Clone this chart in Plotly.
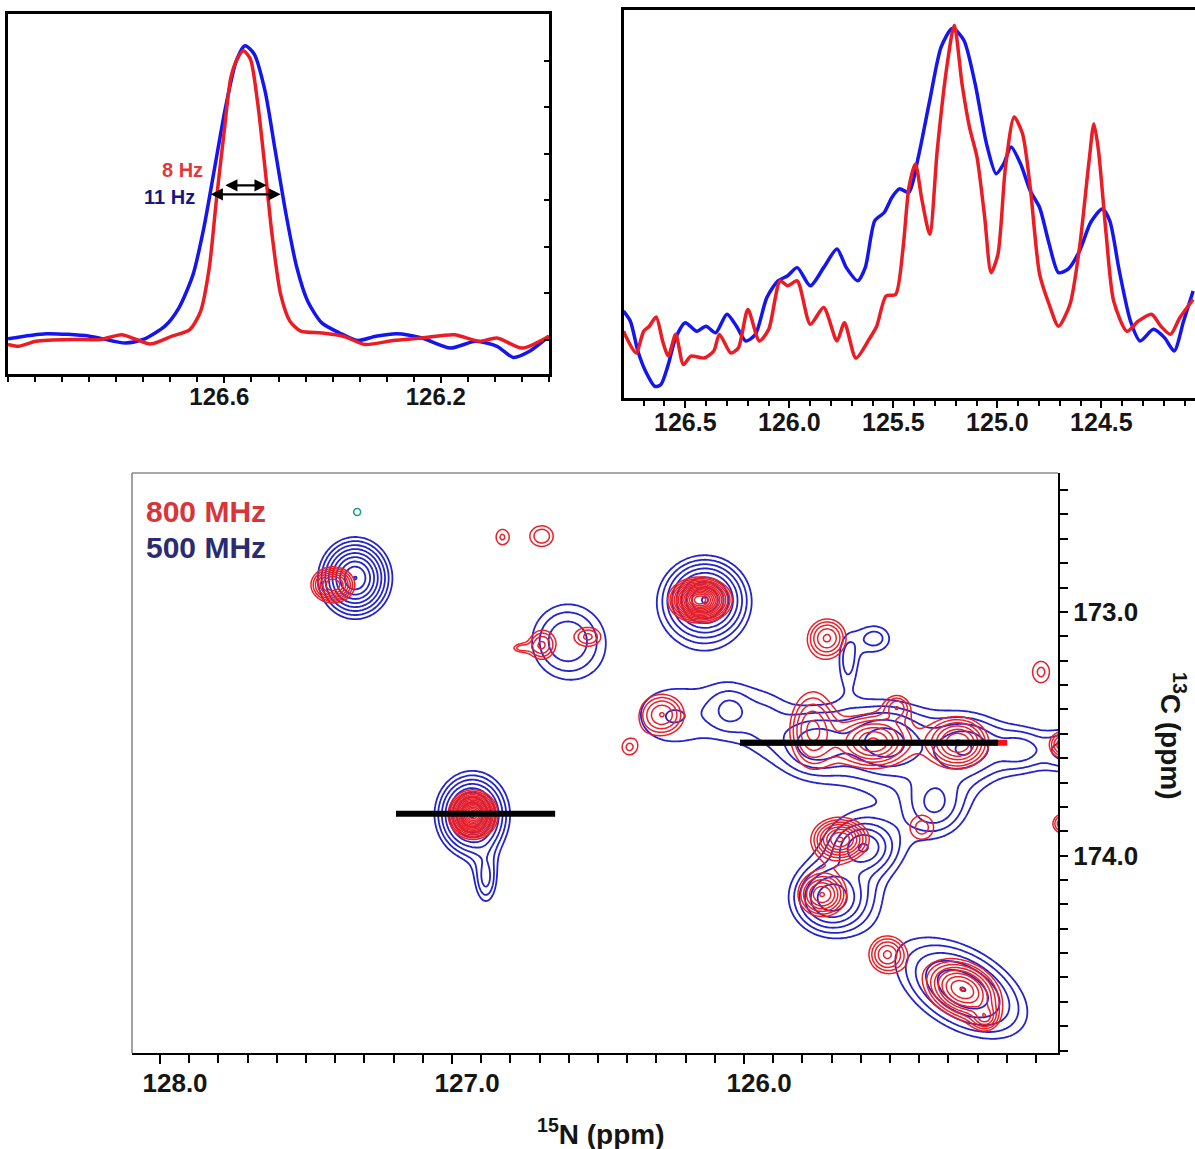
import numpy as np
import plotly.graph_objects as go

FIG_W, FIG_H = 1195, 1149
FONT = "Liberation Sans, Arial, Helvetica, sans-serif"

RED_1D = "#ec1c24"
BLUE_1D = "#1515f0"
RED_2D = "#e8202a"
BLUE_2D = "#2424cc"
TEAL = "#1a9c9c"

# ---------------------------------------------------------------------------
# 1D slice through the isolated peak (15N, ppm vs. normalised intensity)
# ---------------------------------------------------------------------------
left_ppm_500 = [127.0, 126.929, 126.849, 126.783, 126.75, 126.71, 126.684, 126.658,
                126.638, 126.618, 126.598, 126.578, 126.562, 126.545, 126.525, 126.506,
                126.486, 126.466, 126.446, 126.42, 126.387, 126.354, 126.32, 126.281,
                126.235, 126.182, 126.136, 126.096, 126.066, 126.036, 126.0]
left_int_500 = [0.098, 0.112, 0.105, 0.086, 0.096, 0.133, 0.184, 0.276,
                0.406, 0.573, 0.740, 0.870, 0.912, 0.889, 0.787, 0.620,
                0.443, 0.295, 0.202, 0.142, 0.114, 0.093, 0.105, 0.112,
                0.100, 0.072, 0.091, 0.077, 0.046, 0.063, 0.105]

left_ppm_800 = [127.0, 126.981, 126.948, 126.882, 126.829, 126.79, 126.763, 126.737,
                126.697, 126.664, 126.644, 126.628, 126.615, 126.601, 126.588, 126.575,
                126.565, 126.552, 126.539, 126.525, 126.512, 126.496, 126.479, 126.459,
                126.42, 126.38, 126.34, 126.288, 126.235, 126.175, 126.129, 126.096,
                126.05, 126.0]
left_int_800 = [0.082, 0.077, 0.091, 0.096, 0.096, 0.109, 0.096, 0.083,
                0.105, 0.123, 0.174, 0.295, 0.481, 0.666, 0.824, 0.879,
                0.898, 0.875, 0.759, 0.573, 0.388, 0.221, 0.147, 0.119,
                0.114, 0.105, 0.082, 0.093, 0.100, 0.109, 0.091, 0.100,
                0.072, 0.105]

# linewidth markers (ppm limits at half height)
fwhm_500 = [126.628, 126.496]
fwhm_800 = [126.601, 126.522]
fwhm_level_500 = 0.499
fwhm_level_800 = 0.524

# ---------------------------------------------------------------------------
# 1D slice through the crowded region
# ---------------------------------------------------------------------------
right_ppm_500 = [126.797, 126.764, 126.728, 126.691, 126.646, 126.618, 126.582, 126.546,
                 126.5, 126.445, 126.4, 126.354, 126.3, 126.254, 126.209, 126.163,
                 126.108, 126.054, 126.008, 125.962, 125.899, 125.835, 125.771, 125.726,
                 125.671, 125.635, 125.589, 125.544, 125.507, 125.471, 125.425, 125.38,
                 125.325, 125.27, 125.216, 125.161, 125.107, 125.052, 125.006, 124.97,
                 124.934, 124.888, 124.842, 124.797, 124.751, 124.706, 124.66, 124.605,
                 124.551, 124.496, 124.46, 124.414, 124.36, 124.314, 124.25, 124.196,
                 124.15, 124.105, 124.059]
right_int_500 = [0.224, 0.198, 0.121, 0.069, 0.030, 0.034, 0.086, 0.155,
                 0.194, 0.172, 0.185, 0.168, 0.216, 0.185, 0.147, 0.164,
                 0.259, 0.302, 0.315, 0.336, 0.289, 0.336, 0.384, 0.336,
                 0.302, 0.336, 0.457, 0.478, 0.517, 0.539, 0.530, 0.621,
                 0.767, 0.905, 0.953, 0.922, 0.810, 0.655, 0.578, 0.603,
                 0.647, 0.603, 0.534, 0.491, 0.397, 0.323, 0.332, 0.379,
                 0.453, 0.487, 0.457, 0.328, 0.198, 0.147, 0.177, 0.155,
                 0.121, 0.198, 0.276]

right_ppm_800 = [126.797, 126.737, 126.7, 126.673, 126.64, 126.609, 126.582, 126.546,
                 126.509, 126.473, 126.409, 126.363, 126.336, 126.281, 126.245, 126.199,
                 126.144, 126.099, 126.044, 126.008, 125.962, 125.899, 125.835, 125.771,
                 125.735, 125.68, 125.617, 125.58, 125.535, 125.489, 125.453, 125.425,
                 125.394, 125.362, 125.325, 125.289, 125.243, 125.207, 125.17, 125.134,
                 125.098, 125.061, 125.03, 124.997, 124.961, 124.919, 124.879, 124.842,
                 124.797, 124.751, 124.706, 124.651, 124.605, 124.559, 124.536, 124.514,
                 124.477, 124.441, 124.377, 124.323, 124.259, 124.214, 124.168, 124.123,
                 124.059]
right_int_800 = [0.172, 0.116, 0.172, 0.185, 0.209, 0.147, 0.108, 0.164,
                 0.086, 0.108, 0.103, 0.121, 0.164, 0.116, 0.129, 0.228,
                 0.147, 0.177, 0.302, 0.289, 0.302, 0.190, 0.233, 0.147,
                 0.194, 0.103, 0.151, 0.185, 0.263, 0.267, 0.388, 0.543,
                 0.603, 0.509, 0.422, 0.638, 0.853, 0.961, 0.810, 0.698,
                 0.621, 0.466, 0.323, 0.371, 0.595, 0.724, 0.681, 0.543,
                 0.319, 0.241, 0.185, 0.241, 0.388, 0.612, 0.707, 0.638,
                 0.422, 0.250, 0.172, 0.198, 0.216, 0.185, 0.164, 0.207,
                 0.254]

# ---------------------------------------------------------------------------
# 2D 15N-13C spectrum: peak tables (15N ppm, 13C ppm, half widths, height, tilt)
# ---------------------------------------------------------------------------
peaks500_n = [127.332, 126.606, 126.932, 126.884, 126.134, 126.254, 126.051, 125.928,
              125.757, 125.517, 125.243, 125.055, 124.884, 125.551, 125.644, 125.346,
              125.590, 125.700, 125.250]
peaks500_c = [172.861, 173.119, 173.832, 174.098, 172.951, 173.434, 173.402, 173.443,
              173.545, 173.533, 173.557, 173.566, 173.570, 173.107, 173.197, 173.791,
              173.965, 174.175, 174.549]
peaks500_wn = [0.093, 0.171, 0.093, 0.055, 0.113, 0.250, 0.100, 0.140,
               0.154, 0.171, 0.154, 0.120, 0.120, 0.100, 0.050, 0.140,
               0.120, 0.130, 0.250]
peaks500_wc = [0.123, 0.213, 0.129, 0.150, 0.132, 0.250, 0.130, 0.220,
               0.160, 0.170, 0.160, 0.120, 0.120, 0.100, 0.150, 0.170,
               0.120, 0.140, 0.170]
peaks500_h = [8.2, 2.1, 8.2, 1.6, 8.2, 1.15, 1.1, 0.75,
              2.2, 3.0, 2.4, 1.4, 1.8, 1.3, 1.15, 1.9,
              3.3, 4.5, 3.7]
peaks500_tilt = [0, 0, 0, 0, 0, 0, 0, 0, 0, 0, 0, 0, 0, 0, 0, 0, 0, 0, -30]

peaks800_n = [127.408, 126.829, 126.692, 126.692, 126.767, 126.534, 126.928, 126.151,
              125.716, 126.281, 126.394, 125.767, 125.558, 125.476, 125.267, 124.908,
              124.911, 124.983, 125.390, 125.671, 125.733, 125.510, 125.253, 125.175]
peaks800_c = [172.889, 172.693, 172.689, 173.135, 173.148, 173.102, 173.832, 172.951,
              173.107, 173.422, 173.557, 173.484, 173.533, 173.389, 173.537, 173.545,
              173.869, 173.246, 173.885, 173.934, 174.160, 174.406, 174.549, 174.664]
peaks800_wn = [0.069, 0.055, 0.079, 0.065, 0.050, 0.080, 0.041, 0.0565,
               0.082, 0.100, 0.060, 0.095, 0.123, 0.060, 0.105, 0.060,
               0.050, 0.073, 0.090, 0.086, 0.082, 0.078, 0.113, 0.050]
peaks800_wc = [0.068, 0.080, 0.086, 0.090, 0.030, 0.070, 0.049, 0.0486,
               0.100, 0.110, 0.075, 0.190, 0.105, 0.070, 0.105, 0.070,
               0.060, 0.110, 0.110, 0.078, 0.090, 0.094, 0.095, 0.060]
peaks800_h = [4.77, 1.2, 1.5, 1.9, 1.1, 1.6, 28.4, 22.7,
              2.44, 2.44, 1.15, 2.4, 3.8, 1.5, 3.8, 2.4,
              1.9, 1.3, 1.3, 4.77, 3.8, 2.44, 5.96, 2.0]
peaks800_tilt = [0, 0, 0, 0, 0, 0, 0, 0, -30, 0, 0, 0, 0, 0, 0, 0,
                 0, 0, 0, 0, 0, 0, -25, 0]

# weak artefact peak drawn in teal
teal_n = [127.325]
teal_c = [172.590]

# positions of the two 1D slices in the 2D plane
slice_a_n = [127.192, 126.647]
slice_a_c = [173.828, 173.828]
slice_b_n = [126.014, 125.130]
slice_b_c = [173.537, 173.537]
slice_b_red_n = [126.014, 125.099]

# contour level ratios
LEVEL_RATIO_500 = 1.3
LEVEL_RATIO_800 = 1.25

# ---------------------------------------------------------------------------
# panel geometry (pixels on the page)
# ---------------------------------------------------------------------------
def xdom(left, right):
    return [left / FIG_W, right / FIG_W]


def ydom(top, bottom):
    return [1 - bottom / FIG_H, 1 - top / FIG_H]


TL_X, TL_Y = xdom(8, 549), ydom(14, 374)
TR_X, TR_Y = xdom(623.5, 1195), ydom(10, 398)
BT_X, BT_Y = xdom(132, 1058), ydom(473, 1053)

N_RANGE = [128.096, 124.925]
C_RANGE = [174.81, 172.43]
px_per_ppm_n = (BT_X[1] - BT_X[0]) * FIG_W / abs(N_RANGE[0] - N_RANGE[1])
px_per_ppm_c = (BT_Y[1] - BT_Y[0]) * FIG_H / abs(C_RANGE[0] - C_RANGE[1])
ASPECT = px_per_ppm_c / px_per_ppm_n

grid_n = np.arange(124.88, 128.14, 0.006)
grid_c = np.arange(172.40, 174.86, 0.006)
GN, GC = np.meshgrid(grid_n, grid_c)


def spectrum_surface(cn, cc, wn, wc, height, tilt):
    """Sum of squared-Lorentzian peaks, optionally tilted on screen."""
    z = np.full(GN.shape, 1e-6)
    for n0, c0, a, b, h, t in zip(cn, cc, wn, wc, height, tilt):
        dn = GN - n0
        dc = (GC - c0) * ASPECT
        th = np.radians(t)
        u = dn * np.cos(th) + dc * np.sin(th)
        v = -dn * np.sin(th) + dc * np.cos(th)
        q = (u / a) ** 2 + (v / (b * ASPECT)) ** 2
        z += h / (1.0 + q) ** 2
    return np.log(z).astype(np.float32)


z500 = spectrum_surface(peaks500_n, peaks500_c, peaks500_wn, peaks500_wc,
                        peaks500_h, peaks500_tilt)
z800 = spectrum_surface(peaks800_n, peaks800_c, peaks800_wn, peaks800_wc,
                        peaks800_h, peaks800_tilt)

fig = go.Figure()

# --- top-left slice
fig.add_trace(go.Scatter(x=left_ppm_500, y=left_int_500, mode="lines",
                         line=dict(color=BLUE_1D, width=3.5, shape="spline", smoothing=0.7),
                         xaxis="x", yaxis="y", hoverinfo="skip", showlegend=False))
fig.add_trace(go.Scatter(x=left_ppm_800, y=left_int_800, mode="lines",
                         line=dict(color=RED_1D, width=3.5, shape="spline", smoothing=0.7),
                         xaxis="x", yaxis="y", hoverinfo="skip", showlegend=False))

# --- top-right slice
fig.add_trace(go.Scatter(x=right_ppm_500, y=right_int_500, mode="lines",
                         line=dict(color=BLUE_1D, width=3.5, shape="spline", smoothing=0.7),
                         xaxis="x2", yaxis="y2", hoverinfo="skip", showlegend=False))
fig.add_trace(go.Scatter(x=right_ppm_800, y=right_int_800, mode="lines",
                         line=dict(color=RED_1D, width=3.5, shape="spline", smoothing=0.7),
                         xaxis="x2", yaxis="y2", hoverinfo="skip", showlegend=False))

# --- 2D contours
fig.add_trace(go.Contour(
    x=grid_n, y=grid_c, z=z500, xaxis="x3", yaxis="y3",
    autocontour=False,
    contours=dict(coloring="lines", start=0.0, end=float(np.log(LEVEL_RATIO_500) * 12),
                  size=float(np.log(LEVEL_RATIO_500))),
    line=dict(width=1.8, smoothing=1.0),
    colorscale=[[0, BLUE_2D], [1, BLUE_2D]], showscale=False, hoverinfo="skip"))
fig.add_trace(go.Contour(
    x=grid_n, y=grid_c, z=z800, xaxis="x3", yaxis="y3",
    autocontour=False,
    contours=dict(coloring="lines", start=0.0, end=float(np.log(LEVEL_RATIO_800) * 25),
                  size=float(np.log(LEVEL_RATIO_800))),
    line=dict(width=1.5, smoothing=1.0),
    colorscale=[[0, RED_2D], [1, RED_2D]], showscale=False, hoverinfo="skip"))

fig.add_trace(go.Scatter(x=teal_n, y=teal_c, mode="markers",
                         marker=dict(symbol="circle-open", size=7, color=TEAL,
                                     line=dict(width=1.6, color=TEAL)),
                         xaxis="x3", yaxis="y3", hoverinfo="skip", showlegend=False))

# slice positions
fig.add_trace(go.Scatter(x=slice_b_red_n, y=slice_b_c, mode="lines",
                         line=dict(color="#ff1010", width=6),
                         xaxis="x3", yaxis="y3", hoverinfo="skip", showlegend=False))
for sx, sy in ((slice_a_n, slice_a_c), (slice_b_n, slice_b_c)):
    fig.add_trace(go.Scatter(x=sx, y=sy, mode="lines", line=dict(color="black", width=6),
                             xaxis="x3", yaxis="y3", hoverinfo="skip", showlegend=False))


def tfont(size):
    return dict(family=FONT, size=size, color="#151515", weight="bold")


fig.update_layout(
    width=FIG_W, height=FIG_H, autosize=False,
    margin=dict(l=0, r=0, t=0, b=0, pad=0, autoexpand=False),
    paper_bgcolor="white", plot_bgcolor="white",
    showlegend=False,
    xaxis=dict(domain=TL_X, anchor="y", range=[127.0, 126.0], automargin=False,
               showline=True, linecolor="black", linewidth=2.5, mirror=True,
               ticks="outside", tickvals=[126.6, 126.2], ticktext=["126.6", "126.2"],
               ticklen=6, tickwidth=2, tickcolor="black", ticklabelshift=5,
               ticklabelstandoff=-7,
               minor=dict(dtick=0.05, tick0=126.0, ticks="outside", ticklen=5,
                          tickwidth=1.8, tickcolor="black"),
               tickfont=tfont(24),
               showgrid=False, zeroline=False, fixedrange=True),
    yaxis=dict(domain=TL_Y, anchor="x", range=[0, 1], side="right", automargin=False,
               showline=True, linecolor="black", linewidth=2.5, mirror=True,
               ticks="inside", tick0=0.0955, dtick=0.129, ticklen=5, tickwidth=2,
               tickcolor="black", showticklabels=False,
               showgrid=False, zeroline=False, fixedrange=True),
    xaxis2=dict(domain=TR_X, anchor="y2", range=[126.797, 124.05], automargin=False,
                showline=True, linecolor="black", linewidth=2.5, mirror=True,
                ticks="outside", tickvals=[126.5, 126.0, 125.5, 125.0, 124.5],
                ticktext=["126.5", "126.0", "125.5", "125.0", "124.5"],
                ticklen=7, tickwidth=2, tickcolor="black", ticklabelstandoff=-7,
                minor=dict(dtick=0.1, tick0=124.0, ticks="outside", ticklen=5,
                           tickwidth=1.5, tickcolor="black"),
                tickfont=tfont(25), showgrid=False, zeroline=False, fixedrange=True),
    yaxis2=dict(domain=TR_Y, anchor="x2", range=[0, 1], automargin=False,
                showline=True, linecolor="black", linewidth=2.5,
                ticks="", showticklabels=False,
                showgrid=False, zeroline=False, fixedrange=True),
    xaxis3=dict(domain=BT_X, anchor="y3", range=N_RANGE, automargin=False,
                showline=True, linecolor="black", linewidth=2,
                ticks="outside", tickvals=[128.0, 127.0, 126.0],
                ticktext=["128.0", "127.0", "126.0"],
                ticklen=9, tickwidth=2, tickcolor="black", ticklabelstandoff=-3,
                minor=dict(dtick=0.1, tick0=125.0, ticks="outside", ticklen=8,
                           tickwidth=2, tickcolor="black"),
                tickfont=tfont(26), ticklabelshift=-15,
                showgrid=False, zeroline=False, fixedrange=True),
    yaxis3=dict(domain=BT_Y, anchor="x3", range=C_RANGE, side="right", automargin=False,
                showline=True, linecolor="black", linewidth=2,
                ticks="outside", tick0=173.0, dtick=1.0, tickformat=".1f",
                ticklen=8, tickwidth=2, tickcolor="black",
                minor=dict(dtick=0.1, tick0=173.0, ticks="outside", ticklen=8,
                           tickwidth=2, tickcolor="black"),
                tickfont=tfont(26),
                showgrid=False, zeroline=False, fixedrange=True),
)

# grey left and top frame of the 2D panel
fig.add_shape(type="line", xref="x3 domain", yref="y3 domain", x0=0, x1=0, y0=0, y1=1,
              line=dict(color="#8a8a8a", width=1.6))
fig.add_shape(type="line", xref="x3 domain", yref="y3 domain", x0=0, x1=1, y0=1, y1=1,
              line=dict(color="#8a8a8a", width=1.6))

# linewidth arrows on the left slice
for (a, b), lvl in ((fwhm_500, fwhm_level_500), (fwhm_800, fwhm_level_800)):
    fig.add_annotation(x=b, y=lvl, ax=a, ay=lvl, xref="x", yref="y", axref="x", ayref="y",
                       text="", showarrow=True, arrowhead=2, arrowside="end+start",
                       arrowsize=1.1, arrowwidth=2.2, arrowcolor="black")


def px_x(v):
    return v / FIG_W


def px_y(v):
    return 1 - v / FIG_H


fig.add_annotation(x=px_x(205), y=px_y(170), xref="paper", yref="paper",
                   text="<b>8 Hz</b>", showarrow=False, xanchor="right", yanchor="middle",
                   font=dict(family=FONT, size=20, color="#e0383c"))
fig.add_annotation(x=px_x(197), y=px_y(197), xref="paper", yref="paper",
                   text="<b>11 Hz</b>", showarrow=False, xanchor="right", yanchor="middle",
                   font=dict(family=FONT, size=20, color="#17177f"))

fig.add_annotation(x=px_x(144), y=px_y(512), xref="paper", yref="paper",
                   text="<b>800 MHz</b>", showarrow=False, xanchor="left", yanchor="middle",
                   font=dict(family=FONT, size=30, color="#d8353a"))
fig.add_annotation(x=px_x(144), y=px_y(547), xref="paper", yref="paper",
                   text="<b>500 MHz</b>", showarrow=False, xanchor="left", yanchor="middle",
                   font=dict(family=FONT, size=30, color="#2b2b72"))

fig.add_annotation(x=px_x(601), y=px_y(1132), xref="paper", yref="paper",
                   text="<b><sup>15</sup>N (ppm)</b>", showarrow=False,
                   xanchor="center", yanchor="middle",
                   font=dict(family=FONT, size=28, color="#151515"))
fig.add_annotation(x=px_x(1173), y=px_y(736), xref="paper", yref="paper",
                   text="<b><sup>13</sup>C (ppm)</b>", showarrow=False, textangle=90,
                   xanchor="center", yanchor="middle",
                   font=dict(family=FONT, size=28, color="#151515"))

fig.write_html("out.html")
